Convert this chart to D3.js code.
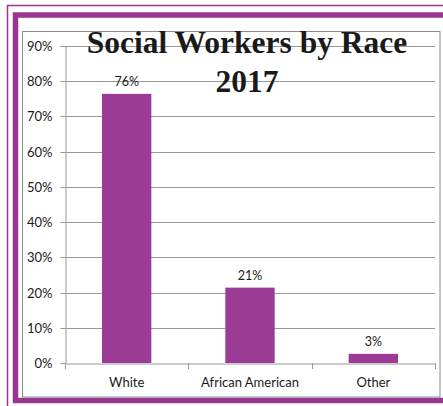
<!DOCTYPE html>
<html><head><meta charset="utf-8">
<script src="https://cdn.jsdelivr.net/npm/d3@7"></script>
<style>html,body{margin:0;padding:0;background:#fff;}svg{display:block;}</style>
</head><body>
<svg id="c" width="443" height="406"></svg>
<script>
const categories = ["White", "African American", "Other"];
const values = [76.4, 21.4, 2.6];
const valueLabels = ["76%", "21%", "3%"];
const yTicks = [0, 10, 20, 30, 40, 50, 60, 70, 80, 90];
const titleLines = ["Social Workers by Race", "2017"];

const svg = d3.select("#c");
const purple = "#9b3592";
const barColor = "#9c3b96";

// frames
svg.append("path").attr("d", "M7.5,406 V5.5 H443").attr("fill", "none")
  .attr("stroke", purple).attr("stroke-width", 1.5);
svg.append("rect").attr("x", 15.5).attr("y", 15).attr("width", 440).attr("height", 385.5)
  .attr("fill", "none").attr("stroke", purple).attr("stroke-width", 5.5);
svg.append("rect").attr("x", 22.5).attr("y", 31.5).attr("width", 417.5).attr("height", 365.5)
  .attr("fill", "#fff").attr("stroke", "#8a8a8a").attr("stroke-width", 1);

const x = d3.scaleBand().domain(categories).range([65, 435]).paddingInner(0.6).paddingOuter(0.3);
const y = d3.scaleLinear().domain([0, 90]).range([363, 46]);

// gridlines
svg.append("g").selectAll("line").data(yTicks.filter(d => d > 0)).join("line")
  .attr("x1", 65).attr("x2", 435)
  .attr("y1", d => Math.round(y(d)) + 0.5).attr("y2", d => Math.round(y(d)) + 0.5)
  .attr("stroke", "#9a9a9a").attr("stroke-width", 1);

// y axis
const yAxis = svg.append("g").attr("transform", "translate(65.5,0)")
  .call(d3.axisLeft(y).tickValues(yTicks).tickFormat(d => d + "%").tickSize(5).tickPadding(8));
yAxis.select(".domain").attr("stroke", "#9a9a9a");
yAxis.selectAll(".tick line").attr("stroke", "#9a9a9a");
yAxis.selectAll(".tick").attr("transform", d => `translate(0,${Math.round(y(d)) + 0.5})`);
yAxis.selectAll("text").attr("font-family", "Lato, sans-serif").attr("font-size", 13).attr("fill", "#1a1a1a");

// bars
svg.append("g").selectAll("rect").data(categories).join("rect")
  .attr("x", d => x(d)).attr("width", x.bandwidth())
  .attr("y", (d, i) => y(values[i])).attr("height", (d, i) => y(0) - y(values[i]))
  .attr("fill", barColor);

// x axis
const xAxis = svg.append("g").attr("transform", "translate(0,363.5)")
  .call(d3.axisBottom(x).tickSize(0).tickPadding(14));
xAxis.select(".domain").attr("stroke", "#9a9a9a");
xAxis.selectAll("text").attr("font-family", "Lato, sans-serif").attr("font-size", 13).attr("fill", "#1a1a1a");
const bounds = [65, 65 + x.step(), 65 + 2 * x.step(), 435];
svg.append("g").selectAll("line").data(bounds).join("line")
  .attr("x1", d => Math.round(d) + 0.5).attr("x2", d => Math.round(d) + 0.5)
  .attr("y1", 363).attr("y2", 369).attr("stroke", "#9a9a9a");

// value labels
svg.append("g").selectAll("text").data(categories).join("text")
  .attr("x", d => x(d) + x.bandwidth() / 2)
  .attr("y", (d, i) => y(values[i]) - 8)
  .attr("text-anchor", "middle").attr("font-family", "Lato, sans-serif").attr("font-size", 12.5)
  .attr("fill", "#1a1a1a").text((d, i) => valueLabels[i]);

// title
svg.append("g").selectAll("text").data(titleLines).join("text")
  .attr("x", 247).attr("y", (d, i) => 53 + i * 39)
  .attr("text-anchor", "middle").attr("font-family", "'Liberation Serif', 'Times New Roman', serif")
  .attr("font-weight", "bold").attr("font-size", 31.5).attr("fill", "#1a1a1a").text(d => d);
</script>
</body></html>
